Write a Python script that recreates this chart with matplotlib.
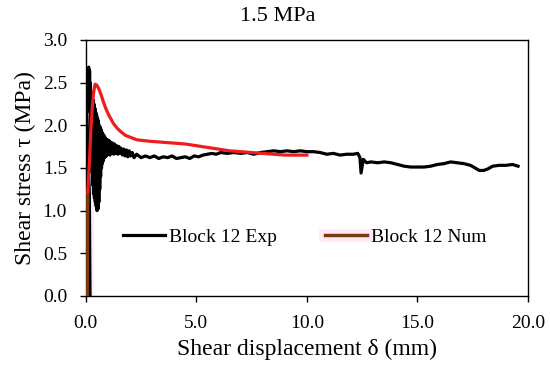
import matplotlib
matplotlib.use("Agg")
import matplotlib.pyplot as plt
import matplotlib.patheffects as pe

plt.rcParams['font.family'] = ['Liberation Serif', 'DejaVu Serif']

exp_x = [0.19, 0.16, 0.04, 0.05, 0.06, 0.07, 0.08, 0.09, 0.10, 0.11, 0.12, 0.13,
         0.14, 0.15, 0.16, 0.17, 0.18, 0.19, 0.20, 0.21, 0.22, 0.23, 0.24, 0.25,
         0.27, 0.29, 0.31, 0.33, 0.35, 0.37, 0.39, 0.41, 0.43, 0.45, 0.47, 0.49,
         0.51, 0.53, 0.55, 0.57, 0.59, 0.61, 0.63, 0.65, 0.67, 0.69, 0.71, 0.73,
         0.75, 0.77, 0.79,
         0.82, 0.86, 0.90, 0.94, 0.98, 1.02, 1.06, 1.10, 1.14, 1.18, 1.22, 1.26,
         1.30, 1.35, 1.40, 1.45, 1.50, 1.55, 1.60, 1.66, 1.72, 1.78, 1.84, 1.90,
         1.96, 2.02, 2.10, 2.18,
         2.3, 2.5, 2.7, 2.9, 3.1, 3.3, 3.5, 3.7, 3.9, 4.1, 4.3, 4.5, 4.7, 4.9,
         5.1, 5.3, 5.5, 5.7, 5.9, 6.1, 6.4, 6.7, 7.0, 7.3, 7.6, 7.9, 8.2, 8.5,
         8.8, 9.1, 9.4, 9.7, 10.0, 10.3, 10.6, 10.9, 11.2, 11.5, 11.8, 12.1,
         12.3, 12.4, 12.45, 12.5, 12.55, 12.7, 12.9, 13.2, 13.5, 13.8, 14.1,
         14.4, 14.7, 15.0, 15.3, 15.6, 15.9, 16.2, 16.5, 16.8, 17.1, 17.4, 17.6,
         17.8, 18.0, 18.2, 18.4, 18.7, 19.0, 19.3, 19.55]
exp_y = [0.00, 1.20, 2.22, 2.55, 2.28, 2.62, 2.20, 2.66, 2.35, 2.60, 2.25, 2.68,
         2.30, 2.58, 2.20, 2.64, 2.32, 2.50, 2.15, 2.45, 2.05, 2.40, 1.90, 2.35,
         1.45, 2.38, 1.30, 2.30, 1.20, 2.25, 1.15, 2.20, 1.10, 2.15, 1.05, 2.12,
         1.00, 2.08, 1.02, 2.05, 1.10, 2.00, 1.25, 1.98, 1.40, 1.95, 1.50, 1.92,
         1.55, 1.90, 1.58,
         1.88, 1.62, 1.85, 1.64, 1.83, 1.66, 1.82, 1.65, 1.80, 1.67, 1.79, 1.66,
         1.78, 1.67, 1.76, 1.66, 1.75, 1.67, 1.73, 1.65, 1.72, 1.64, 1.71, 1.63,
         1.70, 1.64, 1.68, 1.62,
         1.66, 1.62, 1.64, 1.62, 1.64, 1.61, 1.63, 1.62, 1.64, 1.61, 1.62, 1.63,
         1.61, 1.64, 1.63, 1.65, 1.66, 1.67, 1.66, 1.68, 1.67, 1.68, 1.67, 1.68,
         1.66, 1.68, 1.69, 1.70, 1.69, 1.70, 1.69, 1.70, 1.69, 1.69, 1.68, 1.66,
         1.67, 1.65, 1.66, 1.66,
         1.67, 1.62, 1.44, 1.52, 1.60, 1.56, 1.57, 1.56, 1.57, 1.56, 1.54,
         1.52, 1.51, 1.51, 1.51, 1.52, 1.54, 1.55, 1.57, 1.56, 1.55, 1.53, 1.50,
         1.47, 1.47, 1.49, 1.52, 1.53, 1.53, 1.54, 1.52]

# numerical curve (Block 12 Num): elastic part then softening part
num_lin_x = [0.06, 0.09]
num_lin_y = [0.00, 1.22]
num_x = [0.09, 0.17, 0.23, 0.29, 0.35, 0.42, 0.50, 0.60, 0.70, 0.80, 0.90, 1.00,
         1.10, 1.25, 1.40, 1.60, 1.80, 2.00, 2.30, 2.60, 3.00, 3.50, 4.00, 4.50,
         5.00, 5.50, 6.00, 6.50, 7.00, 7.50, 8.00, 8.50, 9.00, 9.50, 10.00]
num_y = [1.22, 1.60, 1.95, 2.20, 2.38, 2.48, 2.47, 2.42, 2.35, 2.27, 2.20, 2.14,
         2.09, 2.02, 1.97, 1.92, 1.88, 1.86, 1.83, 1.82, 1.81, 1.80, 1.79, 1.78,
         1.76, 1.74, 1.72, 1.70, 1.69, 1.68, 1.67, 1.66, 1.65, 1.65, 1.65]

xticks = [0, 5, 10, 15, 20]
yticks = [0.0, 0.5, 1.0, 1.5, 2.0, 2.5, 3.0]

fig = plt.figure(figsize=(5.5, 3.69), dpi=100)
ax = fig.add_axes([0.156, 0.198, 0.804, 0.694])

halo = [pe.Stroke(linewidth=9, foreground='#fdeaf6'), pe.Normal()]
ax.plot(num_lin_x, num_lin_y, color='#7a3b12', lw=2.5, path_effects=halo,
        label='Block 12 Num', zorder=1)
ax.plot(exp_x, exp_y, color='black', lw=2.3, label='Block 12 Exp', zorder=2)
ax.plot(num_lin_x, num_lin_y, color='#7a3b12', lw=2.5, zorder=3)
ax.plot(num_x, num_y, color='#ee1c1c', lw=2.3, zorder=3)

ax.set_xlim(0, 20)
ax.set_ylim(0, 3)
ax.set_xticks(xticks)
ax.set_xticklabels(['%.1f' % v for v in xticks])
ax.set_yticks(yticks)
ax.set_yticklabels(['%.1f' % v for v in yticks])
ax.tick_params(direction='out', length=4.5, width=1, labelsize=14, pad=9)
for s in ax.spines.values():
    s.set_linewidth(1)

ax.set_xlabel('Shear displacement δ (mm)', fontsize=17, labelpad=5)
ax.set_ylabel('Shear stress τ (MPa)', fontsize=17, labelpad=5)
fig.text(0.505, 0.955, '1.5 MPa', ha='center', va='center', fontsize=16)

h, l = ax.get_legend_handles_labels()
ax.legend(h[::-1], l[::-1], loc='center left', bbox_to_anchor=(0.084, 0.23),
          ncol=2, frameon=False, fontsize=14, handlelength=2.15,
          handletextpad=0.2, columnspacing=2.5, borderpad=0, borderaxespad=0)

fig.savefig('out.png', dpi=100)
